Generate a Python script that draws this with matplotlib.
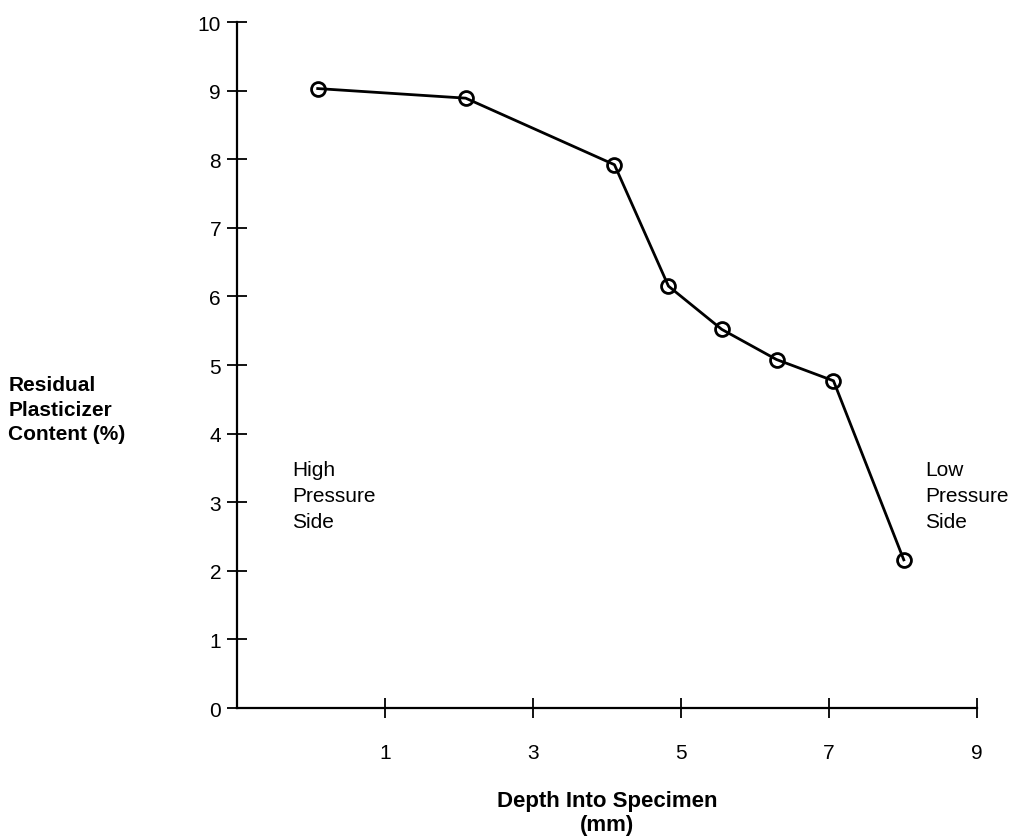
import matplotlib
matplotlib.use("Agg")
import matplotlib.pyplot as plt

depth_mm = [0.09, 2.09, 4.10, 4.83, 5.55, 6.29, 7.06, 8.01]
plasticizer_pct = [9.03, 8.89, 7.92, 6.15, 5.52, 5.08, 4.77, 2.16]
x_ticks = [1, 3, 5, 7, 9]
y_ticks = list(range(0, 11))

plt.rcParams['font.family'] = ['Liberation Sans', 'DejaVu Sans']

fig = plt.figure(figsize=(10.36, 8.37), dpi=100)
ax = fig.add_axes([0.2288, 0.1529, 0.7143, 0.8196])

ax.plot(depth_mm, plasticizer_pct, color='black', linewidth=2.0,
        marker='o', markersize=10, markerfacecolor='none',
        markeredgecolor='black', markeredgewidth=2.0)

ax.set_xlim(-1, 9)
ax.set_ylim(0, 10)
ax.set_xticks(x_ticks)
ax.set_yticks(y_ticks)
ax.tick_params(direction='inout', length=15, width=1.3, labelsize=15, pad=4)
ax.tick_params(axis='x', pad=18)
for s in ['top', 'right']:
    ax.spines[s].set_visible(False)
for s in ['left', 'bottom']:
    ax.spines[s].set_linewidth(1.6)

ax.set_xlabel('Depth Into Specimen\n(mm)', fontsize=16, fontweight='bold',
              labelpad=20, linespacing=1.2)

fig.text(0.008, 0.51, 'Residual\nPlasticizer\nContent (%)', fontsize=15,
         fontweight='bold', ha='left', va='center', linespacing=1.35)

ax.text(-0.25, 3.1, 'High\nPressure\nSide', fontsize=15, ha='left',
        va='center', linespacing=1.45)
ax.text(8.3, 3.1, 'Low\nPressure\nSide', fontsize=15, ha='left',
        va='center', linespacing=1.45, clip_on=False)

fig.savefig('out.png', dpi=100, facecolor='white')
